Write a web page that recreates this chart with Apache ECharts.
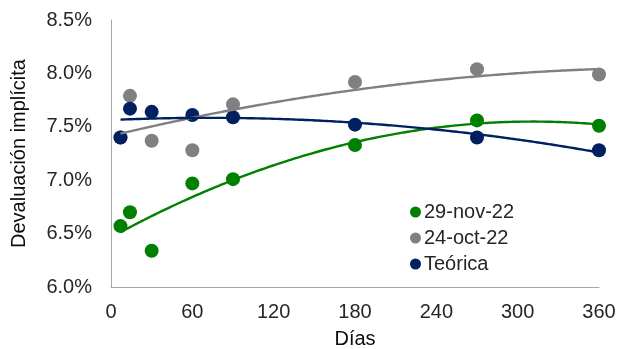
<!DOCTYPE html>
<html><head><meta charset="utf-8">
<script src="https://cdn.jsdelivr.net/npm/echarts@6/dist/echarts.min.js"></script>
<style>html,body{margin:0;padding:0;background:#fff}#c{width:621px;height:349px}</style>
</head><body><div id="c"></div>
<script>
const days = [7, 14, 30, 60, 90, 180, 270, 360];
const nov22 = [6.57, 6.70, 6.34, 6.97, 7.01, 7.33, 7.56, 7.51];
const oct22 = [7.40, 7.79, 7.37, 7.28, 7.71, 7.92, 8.04, 7.99];
const teorica = [7.40, 7.67, 7.64, 7.61, 7.59, 7.52, 7.40, 7.28];
const xTicks = [0, 60, 120, 180, 240, 300, 360];
const yTicks = [6.0, 6.5, 7.0, 7.5, 8.0, 8.5];
const names = ['29-nov-22', '24-oct-22', 'Teórica'];
const colors = ['#008000', '#808080', '#002060'];

function polyFit2(xs, ys) {
  // least squares quadratic (like Excel polynomial order 2 trendline)
  let n = xs.length, s = [0,0,0,0,0], t = [0,0,0];
  for (let i = 0; i < n; i++) {
    let p = 1;
    for (let k = 0; k < 5; k++) { s[k] += p; if (k < 3) t[k] += p * ys[i]; p *= xs[i]; }
  }
  const M = [[s[0], s[1], s[2], t[0]], [s[1], s[2], s[3], t[1]], [s[2], s[3], s[4], t[2]]];
  for (let i = 0; i < 3; i++) {
    for (let j = i + 1; j < 3; j++) {
      const f = M[j][i] / M[i][i];
      for (let k = i; k < 4; k++) M[j][k] -= f * M[i][k];
    }
  }
  const c = [0, 0, 0];
  for (let i = 2; i >= 0; i--) {
    let v = M[i][3];
    for (let k = i + 1; k < 3; k++) v -= M[i][k] * c[k];
    c[i] = v / M[i][i];
  }
  return c;
}
function trend(xs, ys) {
  const c = polyFit2(xs, ys);
  const out = [];
  const x0 = Math.min(...xs), x1 = Math.max(...xs);
  for (let x = x0; x <= x1; x += 1) out.push([x, c[0] + c[1] * x + c[2] * x * x]);
  return out;
}
const seriesVals = [nov22, oct22, teorica];
const series = [];
seriesVals.forEach((vals, i) => {
  series.push({
    name: names[i], type: 'scatter', symbol: 'circle', symbolSize: 14,
    itemStyle: { color: colors[i], opacity: 1 }, z: 2 + i,
    data: days.map((d, j) => [d, vals[j]])
  });
});
seriesVals.forEach((vals, i) => {
  series.push({
    name: names[i] + ' trend', type: 'line', showSymbol: false, symbol: 'none', silent: true,
    lineStyle: { color: colors[i], width: 2.4 }, z: 10,
    data: trend(days, vals)
  });
});
const font = 'Liberation Sans';
const chart = echarts.init(document.getElementById('c'));
chart.setOption({
  animation: false,
  textStyle: { fontFamily: font },
  grid: { left: 111, right: 22, top: 20, bottom: 62, containLabel: false, outerBoundsMode: 'none' },
  legend: {
    orient: 'vertical', left: 405, top: 197, itemGap: 6,
    icon: 'circle', itemWidth: 11, itemHeight: 11,
    data: names,
    textStyle: { fontSize: 20, color: '#262626', fontFamily: font, padding: [0, 0, 0, -2] }
  },
  xAxis: {
    type: 'value', min: 0, max: 360, interval: 60,
    name: 'Días', nameLocation: 'middle', nameGap: 42,
    nameTextStyle: { fontSize: 20, color: '#0d0d0d', fontFamily: font },
    axisLine: { lineStyle: { color: '#A6A6A6', width: 1 } },
    axisTick: { show: false }, splitLine: { show: false },
    axisLabel: { fontSize: 20, color: '#262626', margin: 15,
      formatter: v => xTicks.includes(v) ? String(v) : '' }
  },
  yAxis: {
    type: 'value', min: 6.0, max: 8.5, interval: 0.5,
    name: 'Devaluación implícita', nameLocation: 'middle', nameGap: 82, nameRotate: 90,
    nameTextStyle: { fontSize: 20, color: '#0d0d0d', fontFamily: font },
    axisLine: { show: true, lineStyle: { color: '#A6A6A6', width: 1 } },
    axisTick: { show: false }, splitLine: { show: false },
    axisLabel: { fontSize: 20, color: '#262626', margin: 19,
      formatter: v => { const t = yTicks.find(y => Math.abs(y - v) < 1e-9); return t !== undefined ? t.toFixed(1) + '%' : ''; } }
  },
  series: series
});
</script></body></html>
